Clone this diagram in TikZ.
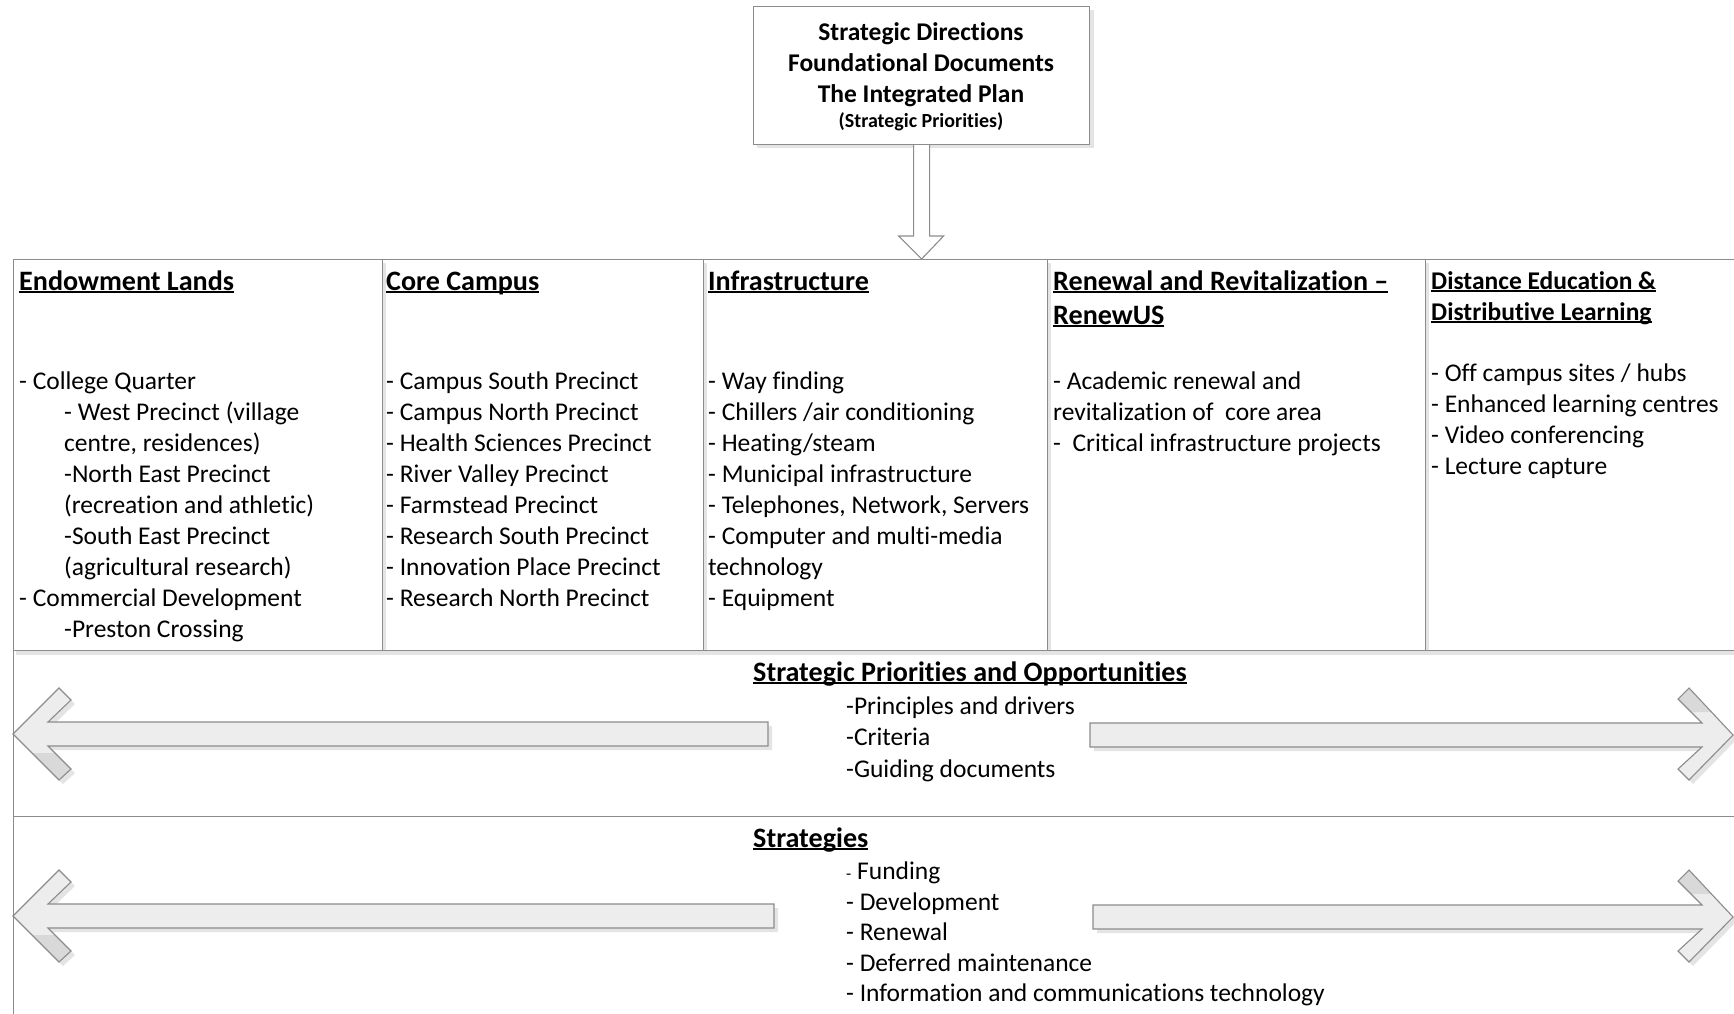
\documentclass[tikz,border=0pt]{standalone}
\usepackage{fontspec}
\setmainfont{Carlito}[Ligatures={NoCommon,NoRequired,NoContextual}]
\usetikzlibrary{calc}
\definecolor{linegray}{HTML}{8C8C8C}
\definecolor{arrfill}{HTML}{EDEDED}
\definecolor{arrdark}{HTML}{D9D9D9}
\definecolor{shadowgray}{HTML}{E4E4E4}
\newcommand\myul[1]{\setbox0\hbox{#1}\rlap{\rule[-3pt]{\wd0}{2pt}}\box0}
\newcommand\ind{\hspace*{45pt}}
\tikzset{
  cell/.style={draw=linegray, line width=1.2pt, fill=white, anchor=north west, inner sep=0pt},
  body/.style={anchor=base west, inner sep=0pt, font=\fontsize{25.5}{31}\selectfont},
  hd/.style={anchor=base west, inner sep=0pt, font=\fontsize{28.1}{34}\selectfont\bfseries},
  hdsmall/.style={anchor=base west, inner sep=0pt, font=\fontsize{25.5}{31}\selectfont\bfseries},
  toptext/.style={anchor=base, inner sep=0pt, font=\fontsize{25.5}{31}\selectfont\bfseries},
  arrline/.style={draw=linegray, line width=1.1pt},
  larr/.style 2 args={insert path={(13,#1) -- (59,{#1-46}) -- (71,{#1-34}) -- (48,{#1-12}) -- (#2,{#1-12}) -- (#2,{#1+12}) -- (48,{#1+12}) -- (71,{#1+35}) -- (59,{#1+46}) -- cycle}},
  rarr/.style 2 args={insert path={(1733,#1) -- (1689,{#1-47}) -- (1678,{#1-36}) -- (1702,{#1-12}) -- (#2,{#1-12}) -- (#2,{#1+12}) -- (1702,{#1+12}) -- (1678,{#1+34}) -- (1689,{#1+45}) -- cycle}},
  ldark/.style={insert path={(32,{#1+19}) -- (55,{#1+19}) -- (71,{#1+35}) -- (59,{#1+46}) -- cycle}},
  rdark/.style={insert path={(1678,{#1-36}) -- (1689,{#1-47}) -- (1711,{#1-23}) -- (1691,{#1-23}) -- cycle}},
}
\begin{document}
\begin{tikzpicture}[x=1pt,y=-1pt]
\useasboundingbox[fill=white] (0,0) rectangle (1734,1014);

% top box
\fill[shadowgray] (1089.6,10) rectangle (1093.5,148);
\fill[shadowgray] (757,144.6) rectangle (1093.5,148);
\node[cell, minimum width=336, minimum height=138] (top) at (753,6) {};
\node[toptext] (t1) at (921,41) {Strategic Directions};
\node[toptext] (t2) at (921,72) {Foundational Documents};
\node[toptext] (t3) at (921,103) {The Integrated Plan};
\node[anchor=base, inner sep=0pt, font=\fontsize{20}{24}\selectfont\bfseries] (t4) at (921,128) {(Strategic Priorities)};

% rows 2 and 3
\node[cell, minimum width=1747, minimum height=166] (r2) at (13,650) {};
\node[cell, minimum width=1747, minimum height=214] (r3) at (13,816) {};

% top row cells
\node[cell, minimum width=369, minimum height=391] (b1) at (13,259) {};
\node[cell, minimum width=321, minimum height=391] (b2) at (382,259) {};
\node[cell, minimum width=344, minimum height=391] (b3) at (703,259) {};
\node[cell, minimum width=378, minimum height=391] (b4) at (1047,259) {};
\node[cell, minimum width=335, minimum height=391] (b5) at (1425,259) {};
% shadows
\fill[shadowgray] (16,651) rectangle (1760,654.5);
\foreach \xx in {382.7,703.7,1047.7,1425.7}{\fill[shadowgray] (\xx,263) rectangle ({\xx+3.3},650);}

% down arrow
\draw[arrline, fill=white] ($(top.south)+(-8,0)$) -- ($(top.south |- b3.north)+(-8,-23)$) -- ($(top.south |- b3.north)+(-23,-23)$) -- (top.south |- b3.north) -- ($(top.south |- b3.north)+(22,-23)$) -- ($(top.south |- b3.north)+(8,-23)$) -- ($(top.south)+(8,0)$);

% column 1
\node[hd] (h1) at (19,290) {\myul{Endowment Lands}};
\foreach \t [count=\i from 0] in {- College Quarter, \ind- West Precinct (village, {\ind centre, residences)}, \ind-North East Precinct, \ind(recreation and athletic), \ind-South East Precinct, \ind(agricultural research), - Commercial Development, \ind-Preston Crossing}
  \node[body] (la\i) at (19,{389+31*\i}) {\t};

% column 2
\node[hd] (h2) at (386,290) {\myul{Core Campus}};
\foreach \t [count=\i from 0] in {- Campus South Precinct, - Campus North Precinct, - Health Sciences Precinct, - River Valley Precinct, - Farmstead Precinct, - Research South Precinct, - Innovation Place Precinct, - Research North Precinct}
  \node[body] (lb\i) at (386,{389+31*\i}) {\t};

% column 3
\node[hd] (h3) at (708,290) {\myul{Infrastructure}};
\foreach \t [count=\i from 0] in {- Way finding, - Chillers /air conditioning, - Heating/steam, - Municipal infrastructure, {- Telephones, Network, Servers}, - Computer and multi-media, technology, - Equipment}
  \node[body] (lc\i) at (708,{389+31*\i}) {\t};

% column 4
\node[hd] (h4a) at (1053,290) {\myul{Renewal and Revitalization –}};
\node[hd] (h4b) at (1053,324) {\myul{RenewUS}};
\foreach \t [count=\i from 0] in {- Academic renewal and, revitalization of\ \ core area, -\ \ Critical infrastructure projects}
  \node[body] (ld\i) at (1053,{389+31*\i}) {\t};

% column 5
\node[hdsmall] (h5a) at (1431,289) {\myul{Distance Education \&}};
\node[hdsmall] (h5b) at (1431,320) {\myul{Distributive Learning}};
\foreach \t [count=\i from 0] in {- Off campus sites / hubs, - Enhanced learning centres, - Video conferencing, - Lecture capture}
  \node[body] (le\i) at (1431,{381+31*\i}) {\t};

% arrows row 2
\fill[shadowgray, shift={(4,4)}, larr={734}{768}];
\fill[shadowgray, shift={(4,4)}, rarr={735}{1090}];
\fill[arrfill, larr={734}{768}];
\fill[arrdark, ldark={734}];
\draw[arrline, larr={734}{768}];
\fill[arrfill, rarr={735}{1090}];
\fill[arrdark, rdark={735}];
\draw[arrline, rarr={735}{1090}];

% arrows row 3
\fill[shadowgray, shift={(4,4)}, larr={916}{774}];
\fill[shadowgray, shift={(4,4)}, rarr={917}{1093}];
\fill[arrfill, larr={916}{774}];
\fill[arrdark, ldark={916}];
\draw[arrline, larr={916}{774}];
\fill[arrfill, rarr={917}{1093}];
\fill[arrdark, rdark={917}];
\draw[arrline, rarr={917}{1093}];

% row 2 text
\node[hd] (sp) at (753,681) {\myul{Strategic Priorities and Opportunities}};
\node[body] (sp1) at (846,714) {-Principles and drivers};
\node[body] (sp2) at (846,745) {-Criteria};
\node[body] (sp3) at (846,777) {-Guiding documents};

% row 3 text
\node[hd] (st) at (753,847) {\myul{Strategies}};
\node[body] (st1) at (846,879) {{\fontsize{17}{17}\selectfont -} Funding};
\node[body] (st2) at (846,910) {- Development};
\node[body] (st3) at (846,940) {- Renewal};
\node[body] (st4) at (846,971) {- Deferred maintenance};
\node[body] (st5) at (846,1001) {- Information and communications technology};
\end{tikzpicture}
\end{document}
